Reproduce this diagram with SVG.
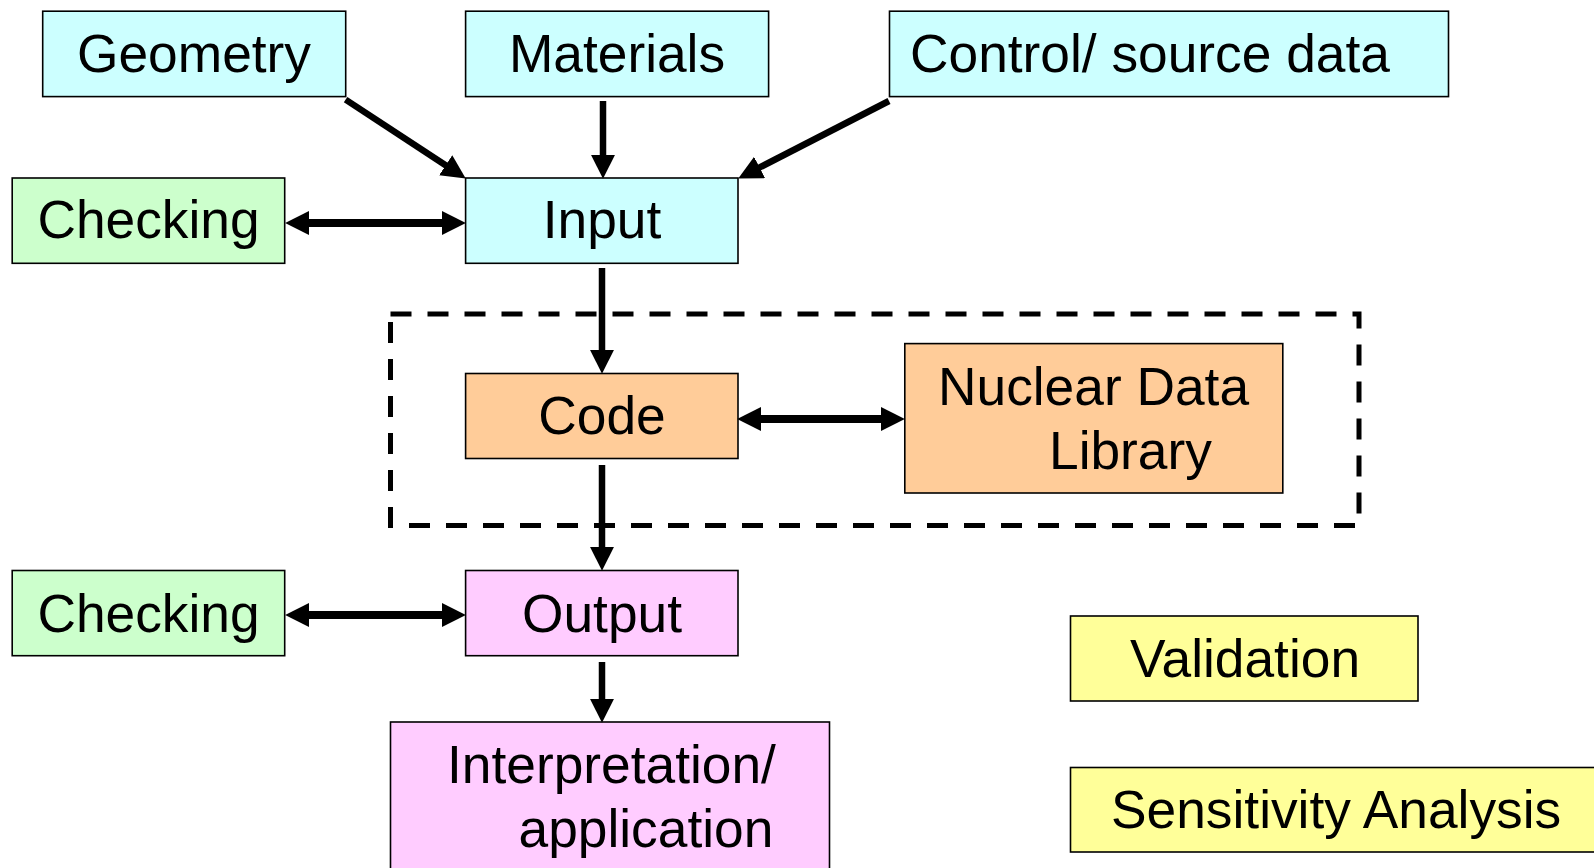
<svg xmlns="http://www.w3.org/2000/svg" width="1594" height="868" viewBox="0 0 1594 868">
<style>
.box{stroke:#000;stroke-width:1.6}
.cyan{fill:#CCFFFF}.green{fill:#CCFFCC}.orange{fill:#FFCC99}.pink{fill:#FFCCFF}.yellow{fill:#FFFF99}
.t{font-family:"Liberation Sans",Arial,sans-serif;font-size:53.3px;fill:#000}
.c{text-anchor:middle}
.a{stroke:#000;stroke-width:6.5;fill:none}
.d{stroke:#000;stroke-width:8;fill:none}
</style>
<defs>
<marker id="head" markerUnits="userSpaceOnUse" markerWidth="24" markerHeight="24" viewBox="0 0 23 23" refX="3" refY="11.5" orient="auto-start-reverse">
<path d="M0,0 L23,11.5 L0,23 z" fill="#000"/>
</marker>
</defs>
<rect width="1594" height="868" fill="#fff"/>
<rect x="390.5" y="314" width="968.5" height="211.5" fill="none" stroke="#000" stroke-width="5" stroke-dasharray="21 16"/>
<g id="geometry"><rect class="box cyan" x="42.7" y="11.2" width="303" height="85.4"/><text class="t c" x="194" y="72">Geometry</text></g>
<g id="materials"><rect class="box cyan" x="465.6" y="11.2" width="303" height="85.4"/><text class="t c" x="617" y="72">Materials</text></g>
<g id="control"><rect class="box cyan" x="889.5" y="11.2" width="559" height="85.4"/><text class="t" x="910" y="72">Control/ source data</text></g>
<g id="checking1"><rect class="box green" x="12.2" y="178" width="272.5" height="85.3"/><text class="t c" x="148.5" y="238">Checking</text></g>
<g id="input"><rect class="box cyan" x="465.6" y="178" width="272.4" height="85.3"/><text class="t c" x="602" y="238">Input</text></g>
<g id="code"><rect class="box orange" x="465.6" y="373.5" width="272.4" height="85"/><text class="t c" x="602" y="434">Code</text></g>
<g id="ndl"><rect class="box orange" x="904.8" y="343.6" width="378" height="149.4"/><text class="t" x="938" y="405">Nuclear Data</text><text class="t" x="1049" y="469">Library</text></g>
<g id="checking2"><rect class="box green" x="12.2" y="570.5" width="272.5" height="85.2"/><text class="t c" x="148.5" y="632">Checking</text></g>
<g id="output"><rect class="box pink" x="465.6" y="570.5" width="272.4" height="85.2"/><text class="t c" x="602" y="632">Output</text></g>
<g id="interp"><rect class="box pink" x="390.5" y="722" width="439" height="160"/><text class="t" x="447" y="783">Interpretation/</text><text class="t" x="518.5" y="847">application</text></g>
<g id="validation"><rect class="box yellow" x="1070.5" y="616" width="347.5" height="85"/><text class="t c" x="1245" y="677">Validation</text></g>
<g id="sensitivity"><rect class="box yellow" x="1070.5" y="767.5" width="540" height="84.5"/><text class="t" x="1111" y="828">Sensitivity Analysis</text></g>
<g id="connectors">
<line class="a" x1="345.6" y1="99.6" x2="448.3" y2="167" marker-end="url(#head)"/>
<line class="a" x1="603" y1="101" x2="603" y2="158" marker-end="url(#head)"/>
<line class="a" x1="889" y1="101" x2="756.8" y2="168.9" marker-end="url(#head)"/>
<line class="a" x1="602" y1="268" x2="602" y2="353" marker-end="url(#head)"/>
<line class="a" x1="602" y1="465" x2="602" y2="550" marker-end="url(#head)"/>
<line class="a" x1="602" y1="662" x2="602" y2="702" marker-end="url(#head)"/>
<line class="d" x1="306" y1="223" x2="445" y2="223" marker-start="url(#head)" marker-end="url(#head)"/>
<line class="d" x1="758" y1="419" x2="884" y2="419" marker-start="url(#head)" marker-end="url(#head)"/>
<line class="d" x1="306" y1="615" x2="445" y2="615" marker-start="url(#head)" marker-end="url(#head)"/>
</g>
</svg>
